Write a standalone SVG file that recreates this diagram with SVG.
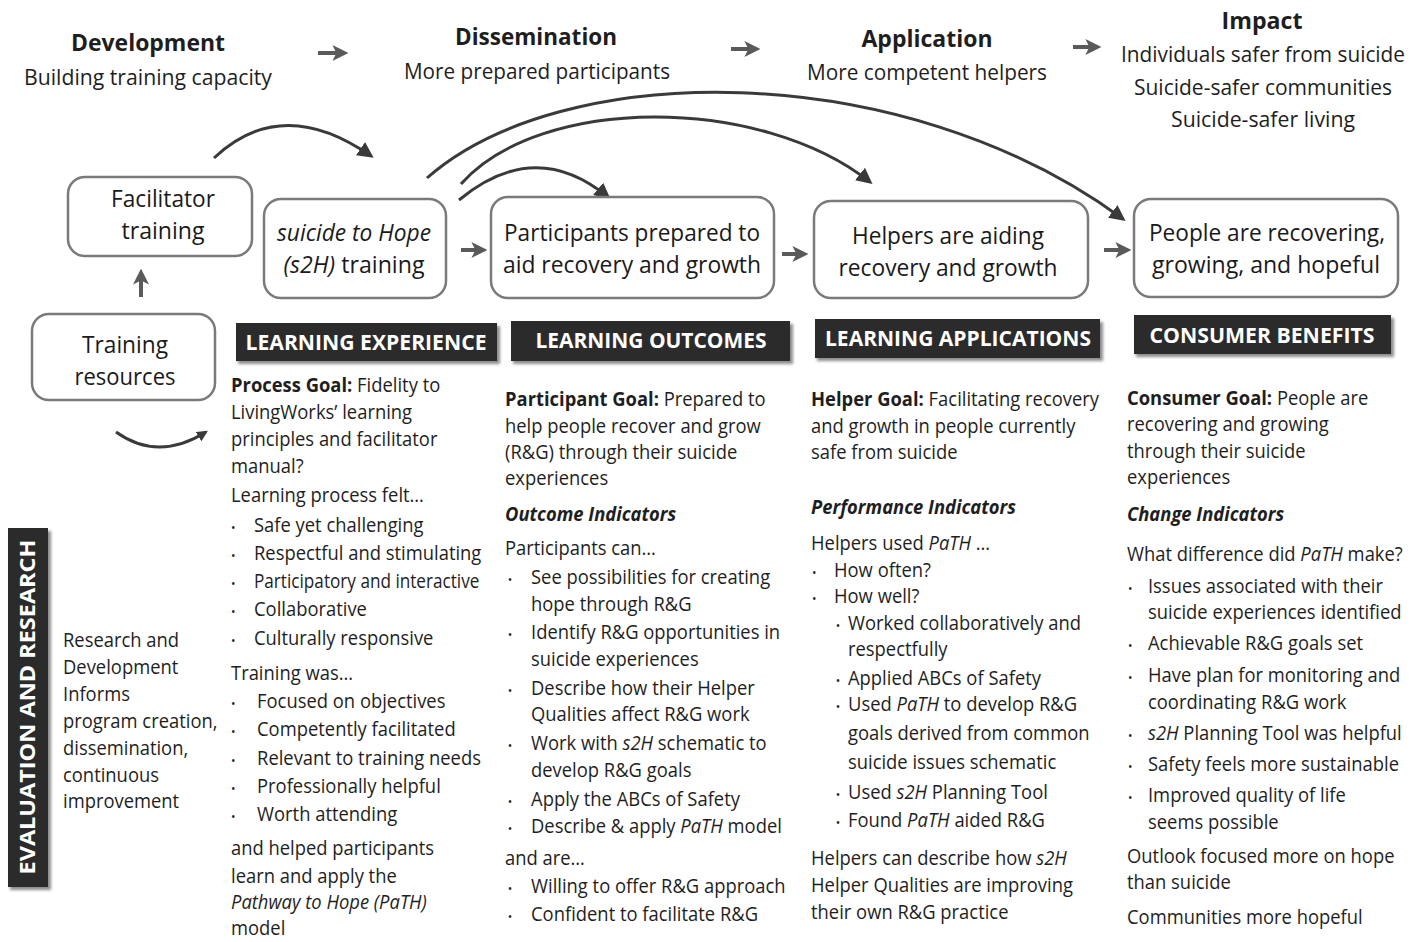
<svg xmlns="http://www.w3.org/2000/svg" width="1422" height="942" viewBox="0 0 1422 942">
  <style>
    text { font-family: "Open Sans", "Liberation Sans", sans-serif; fill: #1e1e1e; }
    .hd { font-size: 23px; font-weight: 700; text-anchor: middle; }
    .sub { font-size: 21px; text-anchor: middle; }
    .nd { font-size: 23px; text-anchor: middle; fill: #1a1a1a; }
    .box { fill: #ffffff; stroke: #7a7a7a; stroke-width: 2.5; }
    .bar { fill: #2b2b2b; }
    .barsh { fill: #8c8c8c; filter: url(#soft); }
    .bt { font-size: 21px; font-weight: 700; fill: #ffffff; text-anchor: middle; }
    .t { font-size: 20px; }
    .b { font-weight: 700; }
    .i { font-style: italic; }
    .bi { font-weight: 700; font-style: italic; }
    .dot { font-size: 13px; }
    .conn { fill: none; stroke: #3a3a3a; stroke-width: 3; }
    .step { fill: none; stroke: #5a5a5a; stroke-width: 4; }
  </style>
  <defs>
    <filter id="soft" x="-5%" y="-20%" width="110%" height="140%">
      <feGaussianBlur stdDeviation="1.6"/>
    </filter>
    <marker id="head" viewBox="0 0 10 10" refX="8" refY="5" markerWidth="16" markerHeight="16" markerUnits="userSpaceOnUse" orient="auto">
      <path d="M0,0 L10,5 L0,10 Z" fill="#3a3a3a"/>
    </marker>
    <marker id="headThin" viewBox="0 0 10 10" refX="8" refY="5" markerWidth="11" markerHeight="11" markerUnits="userSpaceOnUse" orient="auto">
      <path d="M0,0 L10,5 L0,10 Z" fill="#3a3a3a"/>
    </marker>
    <marker id="stepHead" viewBox="0 0 10 10" refX="6" refY="5" markerWidth="16" markerHeight="16" markerUnits="userSpaceOnUse" orient="auto">
      <path d="M0,0 L10,5 L0,10 L2.5,5 Z" fill="#5a5a5a"/>
    </marker>
  </defs>

  <rect width="1422" height="942" fill="#ffffff"/>

  <!-- stage headings -->
  <g id="stages">
    <text class="hd" x="148" y="51" textLength="154" lengthAdjust="spacingAndGlyphs">Development</text>
    <text class="sub" x="148" y="85" textLength="248" lengthAdjust="spacingAndGlyphs">Building training capacity</text>
    <text class="hd" x="536" y="45" textLength="162" lengthAdjust="spacingAndGlyphs">Dissemination</text>
    <text class="sub" x="537" y="79" textLength="266" lengthAdjust="spacingAndGlyphs">More prepared participants</text>
    <text class="hd" x="927" y="47" textLength="131" lengthAdjust="spacingAndGlyphs">Application</text>
    <text class="sub" x="927" y="80" textLength="240" lengthAdjust="spacingAndGlyphs">More competent helpers</text>
    <text class="hd" x="1262" y="29" textLength="81" lengthAdjust="spacingAndGlyphs">Impact</text>
    <text class="sub" x="1263" y="62" textLength="284" lengthAdjust="spacingAndGlyphs">Individuals safer from suicide</text>
    <text class="sub" x="1263" y="95" textLength="258" lengthAdjust="spacingAndGlyphs">Suicide-safer communities</text>
    <text class="sub" x="1263" y="127" textLength="184" lengthAdjust="spacingAndGlyphs">Suicide-safer living</text>
  </g>

  <!-- connectors -->
  <g id="connectors">
    <!-- stage progression -->
    <line class="step" x1="318" y1="53" x2="342" y2="53" marker-end="url(#stepHead)"/>
    <line class="step" x1="731" y1="49" x2="754" y2="49" marker-end="url(#stepHead)"/>
    <line class="step" x1="1073" y1="47" x2="1095" y2="47" marker-end="url(#stepHead)"/>
    <!-- node to node -->
    <line class="step" x1="461" y1="250" x2="481" y2="250" marker-end="url(#stepHead)"/>
    <line class="step" x1="782" y1="254" x2="802" y2="254" marker-end="url(#stepHead)"/>
    <line class="step" x1="1104" y1="250" x2="1125" y2="250" marker-end="url(#stepHead)"/>
    <line class="step" x1="141" y1="297" x2="141" y2="275" marker-end="url(#stepHead)"/>
    <!-- curved flows -->
    <path class="conn" d="M214,158 Q282,94 371,156" marker-end="url(#head)"/>
    <path class="conn" d="M427,178 C560,60 900,55 1123,219" marker-end="url(#head)"/>
    <path class="conn" d="M461,184 C540,95 760,95 870,182" marker-end="url(#head)"/>
    <path class="conn" d="M459,200 Q535,137 608,197" marker-end="url(#head)"/>
    <path class="conn" d="M116,432 Q158,462 206,432" stroke-width="2" marker-end="url(#headThin)"/>
  </g>

  <!-- nodes -->
  <g id="facilitator-training">
    <rect class="box" x="68" y="177" width="184" height="79" rx="17"/>
    <text class="nd" x="163" y="207" textLength="104" lengthAdjust="spacingAndGlyphs">Facilitator</text>
    <text class="nd" x="163" y="239" textLength="83" lengthAdjust="spacingAndGlyphs">training</text>
  </g>
  <g id="s2h-training">
    <rect class="box" x="264" y="199" width="182" height="99" rx="17"/>
    <text class="nd i" x="354" y="241" textLength="154" lengthAdjust="spacingAndGlyphs">suicide to Hope</text>
    <text class="nd" x="354" y="273" textLength="141" lengthAdjust="spacingAndGlyphs"><tspan class="i">(s2H)</tspan> training</text>
  </g>
  <g id="participants-prepared">
    <rect class="box" x="491" y="197" width="283" height="101" rx="17"/>
    <text class="nd" x="632" y="241" textLength="256" lengthAdjust="spacingAndGlyphs">Participants prepared to</text>
    <text class="nd" x="632" y="273" textLength="258" lengthAdjust="spacingAndGlyphs">aid recovery and growth</text>
  </g>
  <g id="helpers-aiding">
    <rect class="box" x="814" y="201" width="274" height="97" rx="17"/>
    <text class="nd" x="948" y="244" textLength="192" lengthAdjust="spacingAndGlyphs">Helpers are aiding</text>
    <text class="nd" x="948" y="276" textLength="219" lengthAdjust="spacingAndGlyphs">recovery and growth</text>
  </g>
  <g id="people-recovering">
    <rect class="box" x="1134" y="199" width="264" height="98" rx="17"/>
    <text class="nd" x="1267" y="241" textLength="236" lengthAdjust="spacingAndGlyphs">People are recovering,</text>
    <text class="nd" x="1266" y="273" textLength="228" lengthAdjust="spacingAndGlyphs">growing, and hopeful</text>
  </g>
  <g id="training-resources">
    <rect class="box" x="32" y="314" width="183" height="86" rx="17"/>
    <text class="nd" x="125" y="353" textLength="86" lengthAdjust="spacingAndGlyphs">Training</text>
    <text class="nd" x="125" y="385" textLength="101" lengthAdjust="spacingAndGlyphs">resources</text>
  </g>

  <!-- column header bars -->
  <g id="bar-learning-experience">
    <rect class="barsh" x="238" y="326" width="262" height="38"/>
    <rect class="bar" x="236" y="323" width="261" height="38"/>
    <text class="bt" x="366" y="350" textLength="241" lengthAdjust="spacingAndGlyphs">LEARNING EXPERIENCE</text>
  </g>
  <g id="bar-learning-outcomes">
    <rect class="barsh" x="513" y="324" width="280" height="40"/>
    <rect class="bar" x="511" y="321" width="279" height="40"/>
    <text class="bt" x="651" y="348" textLength="231" lengthAdjust="spacingAndGlyphs">LEARNING OUTCOMES</text>
  </g>
  <g id="bar-learning-applications">
    <rect class="barsh" x="817" y="322" width="286" height="39"/>
    <rect class="bar" x="815" y="319" width="285" height="39"/>
    <text class="bt" x="958" y="346" textLength="266" lengthAdjust="spacingAndGlyphs">LEARNING APPLICATIONS</text>
  </g>
  <g id="bar-consumer-benefits">
    <rect class="barsh" x="1136" y="318" width="258" height="39"/>
    <rect class="bar" x="1134" y="315" width="257" height="39"/>
    <text class="bt" x="1262" y="343" textLength="225" lengthAdjust="spacingAndGlyphs">CONSUMER BENEFITS</text>
  </g>
  <g id="bar-evaluation">
    <rect class="barsh" x="10" y="531" width="41" height="359"/>
    <rect class="bar" x="8" y="528" width="40" height="359"/>
    <text class="bt" transform="translate(35,707) rotate(-90)" x="0" y="0" textLength="335" lengthAdjust="spacingAndGlyphs">EVALUATION AND RESEARCH</text>
  </g>

  <!-- research and development note -->
  <g id="research-note" transform="translate(63,0) scale(0.92,1)">
    <text class="t" x="0" y="647">Research and</text>
    <text class="t" x="0" y="674">Development</text>
    <text class="t" x="0" y="701">Informs</text>
    <text class="t" x="0" y="728">program creation,</text>
    <text class="t" x="0" y="755">dissemination,</text>
    <text class="t" x="0" y="782">continuous</text>
    <text class="t" x="0" y="808">improvement</text>
  </g>

  <!-- learning experience column -->
  <g id="col-experience" transform="translate(231,0) scale(0.92,1)">
    <text class="t" x="0" y="392"><tspan class="b">Process Goal:</tspan> Fidelity to</text>
    <text class="t" x="0" y="419">LivingWorks’ learning</text>
    <text class="t" x="0" y="446">principles and facilitator</text>
    <text class="t" x="0" y="473">manual?</text>
    <text class="t" x="0" y="502">Learning process felt…</text>
    <text class="t dot" x="0" y="532">•</text><text class="t" x="25" y="532">Safe yet challenging</text>
    <text class="t dot" x="0" y="560">•</text><text class="t" x="25" y="560">Respectful and stimulating</text>
    <text class="t dot" x="0" y="588">•</text><text class="t" x="25" y="588" textLength="245" lengthAdjust="spacingAndGlyphs">Participatory and interactive</text>
    <text class="t dot" x="0" y="616">•</text><text class="t" x="25" y="616">Collaborative</text>
    <text class="t dot" x="0" y="645">•</text><text class="t" x="25" y="645">Culturally responsive</text>
    <text class="t" x="0" y="680">Training was…</text>
    <text class="t dot" x="0" y="708">•</text><text class="t" x="28.3" y="708">Focused on objectives</text>
    <text class="t dot" x="0" y="736">•</text><text class="t" x="28.3" y="736">Competently facilitated</text>
    <text class="t dot" x="0" y="765">•</text><text class="t" x="28.3" y="765">Relevant to training needs</text>
    <text class="t dot" x="0" y="793">•</text><text class="t" x="28.3" y="793">Professionally helpful</text>
    <text class="t dot" x="0" y="821">•</text><text class="t" x="28.3" y="821">Worth attending</text>
    <text class="t" x="0" y="855">and helped participants</text>
    <text class="t" x="0" y="883">learn and apply the</text>
    <text class="t i" x="0" y="909">Pathway to Hope (PaTH)</text>
    <text class="t" x="0" y="935">model</text>
  </g>

  <!-- learning outcomes column -->
  <g id="col-outcomes" transform="translate(505,0) scale(0.92,1)">
    <text class="t" x="0" y="406"><tspan class="b">Participant Goal:</tspan> Prepared to</text>
    <text class="t" x="0" y="433">help people recover and grow</text>
    <text class="t" x="0" y="459">(R&amp;G) through their suicide</text>
    <text class="t" x="0" y="485">experiences</text>
    <text class="t bi" x="0" y="521">Outcome Indicators</text>
    <text class="t" x="0" y="555">Participants can…</text>
    <text class="t dot" x="3" y="584">•</text><text class="t" x="28.3" y="584">See possibilities for creating</text>
    <text class="t" x="28.3" y="611">hope through R&amp;G</text>
    <text class="t dot" x="3" y="639">•</text><text class="t" x="28.3" y="639">Identify R&amp;G opportunities in</text>
    <text class="t" x="28.3" y="666">suicide experiences</text>
    <text class="t dot" x="3" y="695">•</text><text class="t" x="28.3" y="695">Describe how their Helper</text>
    <text class="t" x="28.3" y="721">Qualities affect R&amp;G work</text>
    <text class="t dot" x="3" y="750">•</text><text class="t" x="28.3" y="750">Work with <tspan class="i">s2H</tspan> schematic to</text>
    <text class="t" x="28.3" y="777">develop R&amp;G goals</text>
    <text class="t dot" x="3" y="806">•</text><text class="t" x="28.3" y="806">Apply the ABCs of Safety</text>
    <text class="t dot" x="3" y="833">•</text><text class="t" x="28.3" y="833">Describe &amp; apply <tspan class="i">PaTH</tspan> model</text>
    <text class="t" x="0" y="865">and are…</text>
    <text class="t dot" x="3" y="893">•</text><text class="t" x="28.3" y="893">Willing to offer R&amp;G approach</text>
    <text class="t dot" x="3" y="921">•</text><text class="t" x="28.3" y="921">Confident to facilitate R&amp;G</text>
  </g>

  <!-- learning applications column -->
  <g id="col-applications" transform="translate(811,0) scale(0.92,1)">
    <text class="t" x="0" y="406"><tspan class="b">Helper Goal:</tspan> Facilitating recovery</text>
    <text class="t" x="0" y="433">and growth in people currently</text>
    <text class="t" x="0" y="459">safe from suicide</text>
    <text class="t bi" x="0" y="514">Performance Indicators</text>
    <text class="t" x="0" y="550">Helpers used <tspan class="i">PaTH</tspan>  …</text>
    <text class="t dot" x="1" y="577">•</text><text class="t" x="25" y="577">How often?</text>
    <text class="t dot" x="1" y="603">•</text><text class="t" x="25" y="603">How well?</text>
    <text class="t dot" x="27" y="630">•</text><text class="t" x="40.2" y="630">Worked collaboratively and</text>
    <text class="t" x="40.2" y="656">respectfully</text>
    <text class="t dot" x="27" y="685">•</text><text class="t" x="40.2" y="685">Applied ABCs of Safety</text>
    <text class="t dot" x="27" y="711">•</text><text class="t" x="40.2" y="711">Used <tspan class="i">PaTH</tspan> to develop R&amp;G</text>
    <text class="t" x="40.2" y="740">goals derived from common</text>
    <text class="t" x="40.2" y="769">suicide issues schematic</text>
    <text class="t dot" x="27" y="799">•</text><text class="t" x="40.2" y="799">Used <tspan class="i">s2H</tspan> Planning Tool</text>
    <text class="t dot" x="27" y="827">•</text><text class="t" x="40.2" y="827">Found <tspan class="i">PaTH</tspan> aided R&amp;G</text>
    <text class="t" x="0" y="865">Helpers can describe how <tspan class="i">s2H</tspan></text>
    <text class="t" x="0" y="892">Helper Qualities are improving</text>
    <text class="t" x="0" y="919">their own R&amp;G practice</text>
  </g>

  <!-- consumer benefits column -->
  <g id="col-benefits" transform="translate(1127,0) scale(0.92,1)">
    <text class="t" x="0" y="405"><tspan class="b">Consumer Goal:</tspan> People are</text>
    <text class="t" x="0" y="431">recovering and growing</text>
    <text class="t" x="0" y="458">through their suicide</text>
    <text class="t" x="0" y="484">experiences</text>
    <text class="t bi" x="0" y="521">Change Indicators</text>
    <text class="t" x="0" y="561">What difference did <tspan class="i">PaTH</tspan> make?</text>
    <text class="t dot" x="1" y="593">•</text><text class="t" x="22.8" y="593">Issues associated with their</text>
    <text class="t" x="22.8" y="619">suicide experiences identified</text>
    <text class="t dot" x="1" y="650">•</text><text class="t" x="22.8" y="650">Achievable R&amp;G goals set</text>
    <text class="t dot" x="1" y="682">•</text><text class="t" x="22.8" y="682">Have plan for monitoring and</text>
    <text class="t" x="22.8" y="709">coordinating R&amp;G work</text>
    <text class="t dot" x="1" y="740">•</text><text class="t" x="22.8" y="740"><tspan class="i">s2H</tspan> Planning Tool was helpful</text>
    <text class="t dot" x="1" y="771">•</text><text class="t" x="22.8" y="771">Safety feels more sustainable</text>
    <text class="t dot" x="1" y="802">•</text><text class="t" x="22.8" y="802">Improved quality of life</text>
    <text class="t" x="22.8" y="829">seems possible</text>
    <text class="t" x="0" y="863">Outlook focused more on hope</text>
    <text class="t" x="0" y="889">than suicide</text>
    <text class="t" x="0" y="924">Communities more hopeful</text>
  </g>
</svg>
